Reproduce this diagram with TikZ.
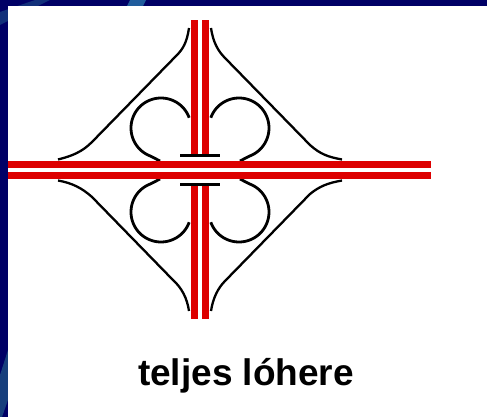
\documentclass[tikz,border=0pt]{standalone}
\usepackage{fontspec}
\setmainfont{Liberation Sans}
\definecolor{navy}{HTML}{000066}
\definecolor{bandA}{HTML}{12307A}
\definecolor{bandB}{HTML}{1F5C9C}
\definecolor{bandC}{HTML}{173F7C}
\definecolor{roadred}{HTML}{DD0000}
\tikzset{
  road/.style={fill=roadred,draw=none},
  ramp/.style={draw=black,line width=2.3pt,line join=round},
  loopramp/.style={draw=black,line width=2.8pt,line join=round,samples=60,smooth},
  barrier/.style={fill=black,draw=none},
  caption/.style={font=\fontsize{37}{40}\selectfont\bfseries,anchor=base,inner sep=0pt}
}
\begin{document}
\begin{tikzpicture}[x=1pt,y=-1pt]
\useasboundingbox (0,0) rectangle (487,417);
% background
\fill[navy] (0,0) rectangle (487,417);
\fill[bandA] (0,12) -- (35,0) -- (50,0) -- (0,25) -- cycle;
\fill[bandB] (127,6) -- (130,0) -- (146,0) -- (143,6) -- cycle;
\fill[bandC] (8,350) -- (0,375) -- (0,417) -- (2,417) -- (8,400) -- cycle;
\fill[white] (8,6) rectangle (487,417);
% outer ramps
\draw[ramp] (189,28) .. controls (187,42) and (183,49) .. (177,55) -- (92,142) .. controls (82,152) and (72,156) .. (58,159.5);
\draw[ramp] (211,28) .. controls (213,42) and (218,51) .. (225,58) -- (310,145) .. controls (320,154) and (328,157) .. (342,159.5);
\draw[ramp] (58,180.5) .. controls (72,183) and (82,188) .. (92,197) -- (172,279) .. controls (182,288) and (187,298) .. (189,311);
\draw[ramp] (342,180.5) .. controls (328,183) and (320,186) .. (310,194) -- (225,281) .. controls (218,288) and (213,298) .. (211,311);
% clover loops
\draw[loopramp,domain=20:250] plot ({161+30*cos(\x)},{128-30*sin(\x)}) -- (160,161);
\draw[loopramp,domain=20:250] plot ({239-30*cos(\x)},{128-30*sin(\x)}) -- (240,161);
\draw[loopramp,domain=20:250] plot ({161+30*cos(\x)},{212+30*sin(\x)}) -- (160,179);
\draw[loopramp,domain=20:250] plot ({239-30*cos(\x)},{212+30*sin(\x)}) -- (240,179);
% main roads
\fill[road] (191,20) rectangle (198,154);
\fill[road] (202,20) rectangle (209,154);
\fill[road] (191,186) rectangle (198,319);
\fill[road] (202,186) rectangle (209,319);
\fill[road] (8,161) rectangle (431,168);
\fill[road] (8,172) rectangle (431,179);
% bridge edges
\fill[barrier] (180,154) rectangle (220,157);
\fill[barrier] (180,182.5) rectangle (220,186);
\node[caption] (label) at (246,385) {teljes lóhere};
\end{tikzpicture}
\end{document}
